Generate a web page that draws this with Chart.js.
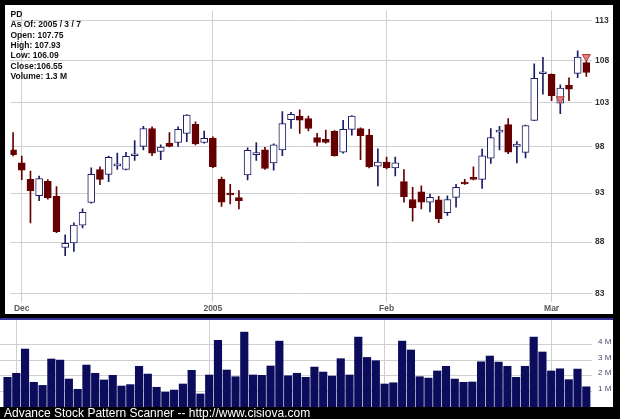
<!DOCTYPE html>
<html>
<head>
<meta charset="utf-8">
<script src="https://cdn.jsdelivr.net/npm/chart.js@4/dist/chart.umd.min.js"></script>
<style>
  html, body { margin: 0; padding: 0; background: #000; }
  #wrap { position: relative; width: 620px; height: 419px; background: #000; overflow: hidden; }
  #priceBox { position: absolute; left: 5px; top: 5px; width: 608px; height: 309px; background: #fff; }
  #sep { position: absolute; left: 0; top: 318px; width: 613px; height: 2px; background: #34349c; }
  #volBox { position: absolute; left: 0; top: 320px; width: 613px; height: 87px; background: #fff; }
  #footer { position: absolute; left: 4px; top: 406px; line-height: 12px; white-space: nowrap;
            color: #fff; font: 12px 'Liberation Sans', Arial, sans-serif; }
  canvas { display: block; }
</style>
</head>
<body>
<div id="wrap">
  <div id="priceBox"><canvas id="priceChart" width="608" height="309"></canvas></div>
  <div id="sep"></div>
  <div id="volBox"><canvas id="volumeChart" width="613" height="87"></canvas></div>
  <div id="footer">Advance Stock Pattern Scanner -- http://www.cisiova.com</div>
</div>
<script>
// --- data ---
const symbol = 'PD';
const dates = [
  '2004-11-30',
  '2004-12-01','2004-12-02','2004-12-03','2004-12-06','2004-12-07','2004-12-08','2004-12-09','2004-12-10',
  '2004-12-13','2004-12-14','2004-12-15','2004-12-16','2004-12-17','2004-12-20','2004-12-21','2004-12-22',
  '2004-12-23','2004-12-27','2004-12-28','2004-12-29','2004-12-30','2004-12-31',
  '2005-01-03','2005-01-04','2005-01-05','2005-01-06','2005-01-07','2005-01-10','2005-01-11','2005-01-12',
  '2005-01-13','2005-01-14','2005-01-18','2005-01-19','2005-01-20','2005-01-21','2005-01-24','2005-01-25',
  '2005-01-26','2005-01-27','2005-01-28','2005-01-31',
  '2005-02-01','2005-02-02','2005-02-03','2005-02-04','2005-02-07','2005-02-08','2005-02-09','2005-02-10',
  '2005-02-11','2005-02-14','2005-02-15','2005-02-16','2005-02-17','2005-02-18','2005-02-22','2005-02-23',
  '2005-02-24','2005-02-25','2005-02-28',
  '2005-03-01','2005-03-02','2005-03-03','2005-03-04','2005-03-07'
];
const openPrices = [
  97.65, 96.22, 94.45, 92.73, 94.25, 92.65, 87.46, 87.92, 89.69, 92.01, 95.50, 94.98, 95.90, 95.50, 97.00, 98.02,
  100.03, 97.47, 98.38, 98.46, 99.47, 100.50, 98.46, 98.92, 94.45, 93.00, 92.52, 94.92, 97.12, 97.65, 96.22, 97.65,
  101.03, 101.45, 101.14, 99.00, 98.81, 99.73, 97.40, 99.92, 100.03, 99.28, 95.86, 96.30, 95.68, 94.21, 92.32, 93.14,
  92.04, 92.28, 90.96, 92.55, 94.00, 94.66, 94.45, 96.72, 99.62, 100.47, 98.02, 97.37, 100.95, 106.40, 106.32, 102.92,
  105.03, 106.44, 107.75
];
const highPrices = [
  99.58, 96.97, 95.33, 94.81, 94.42, 93.69, 88.71, 89.92, 91.36, 95.68, 95.79, 96.97, 97.29, 97.37, 98.67, 100.28,
  100.21, 98.19, 99.56, 100.21, 101.60, 100.77, 99.73, 99.10, 94.70, 93.93, 93.25, 97.86, 98.46, 97.91, 98.30, 101.96,
  101.86, 102.16, 101.45, 99.47, 99.85, 99.80, 100.95, 101.50, 100.10, 99.92, 97.76, 96.86, 96.86, 95.50, 93.59, 93.76,
  92.89, 92.65, 92.72, 93.93, 94.45, 95.79, 97.72, 100.03, 100.28, 101.14, 98.56, 100.40, 107.59, 108.38, 106.40, 105.07,
  105.92, 109.19, 107.93
];
const lowPrices = [
  96.97, 94.42, 89.92, 92.21, 92.35, 88.93, 86.66, 87.08, 89.42, 91.94, 93.87, 94.21, 95.50, 95.47, 96.50, 97.65,
  97.00, 96.57, 97.98, 98.02, 98.56, 98.20, 98.38, 95.70, 91.60, 91.86, 91.36, 94.39, 96.50, 95.50, 95.44, 97.00,
  100.03, 99.47, 99.74, 98.09, 98.38, 96.95, 97.29, 99.28, 96.57, 95.68, 93.76, 95.57, 94.81, 92.04, 90.09, 91.36,
  91.03, 89.95, 90.69, 91.53, 93.90, 94.40, 93.48, 96.15, 97.65, 97.22, 96.22, 96.75, 100.90, 103.99, 103.22, 101.71,
  103.22, 105.92, 106.09
];
const closePrices = [
  97.11, 95.44, 93.25, 94.53, 92.48, 89.03, 87.88, 89.69, 91.00, 94.98, 94.45, 96.83, 96.05, 96.93, 97.06, 100.03,
  97.29, 97.94, 98.02, 99.92, 101.56, 98.30, 98.92, 95.79, 92.04, 92.79, 92.21, 97.58, 97.20, 95.61, 98.19, 100.58,
  101.63, 100.96, 100.03, 98.46, 98.46, 97.00, 99.92, 101.45, 99.21, 95.79, 96.30, 95.68, 96.22, 92.62, 91.46, 92.04,
  92.55, 90.35, 92.32, 93.59, 93.95, 94.45, 97.00, 99.00, 99.70, 97.40, 98.27, 100.36, 105.85, 106.48, 103.79, 104.69,
  104.57, 108.43, 106.55
];
// volume in millions of shares
const volumes = [
  1.91, 2.17, 3.73, 1.59, 1.39, 3.09, 3.02, 1.80, 1.14, 2.70, 2.17, 1.74, 2.04, 1.35, 1.44, 2.62,
  2.12, 1.27, 0.96, 1.09, 1.48, 2.36, 0.84, 2.06, 4.29, 2.38, 1.95, 4.82, 2.06, 2.04, 2.64, 4.24,
  2.01, 2.17, 1.91, 2.57, 2.25, 1.99, 3.11, 2.06, 4.50, 3.19, 2.98, 1.48, 1.56, 4.24, 3.67, 1.95,
  1.86, 2.32, 2.62, 1.80, 1.59, 1.61, 2.91, 3.28, 2.89, 2.62, 1.91, 2.62, 4.50, 3.54, 2.32, 2.46,
  1.76, 2.44, 1.30
];
const monthTickDates = ['2004-12-01', '2005-01-03', '2005-02-01', '2005-03-01'];
const monthTickLabels = ['Dec', '2005', 'Feb', 'Mar'];
const priceTicks = [83, 88, 93, 98, 103, 108, 113];
const volumeTicks = [1, 2, 3, 4];
const signalDates = ['2005-03-02', '2005-03-07'];
const signalPrices = [103.4, 108.45];

// --- styling ---
const FONT = "'Liberation Sans', Arial, sans-serif";
Chart.defaults.font.family = FONT;
const UP_LINE = '#1c1c66';
const DOWN = '#660000';
const GRID = '#d0d0d0';

const idx = dates.map((d, i) => i);
const isUp = i => closePrices[i] >= openPrices[i];
const monthIdx = monthTickDates.map(d => dates.indexOf(d));

function dateTicks(scale) {
    scale.ticks = monthIdx.map(v => ({ value: v }));
}

// top-left info block, taken from the last session
const infoPlugin = {
    id: 'info',
    afterDraw(chart) {
        const last = dates.length - 1;
        const [yy, mm, dd] = dates[last].split('-').map(Number);
        const lines = [
            symbol,
            'As Of: ' + yy + ' / ' + mm + ' / ' + dd,
            'Open: ' + openPrices[last].toFixed(2),
            'High: ' + highPrices[last].toFixed(2),
            'Low: ' + lowPrices[last].toFixed(2),
            'Close:' + closePrices[last].toFixed(2),
            'Volume: ' + volumes[last].toFixed(1) + ' M'
        ];
        const ctx = chart.ctx;
        ctx.save();
        ctx.font = 'bold 8.5px ' + FONT;
        ctx.fillStyle = '#111';
        ctx.textBaseline = 'alphabetic';
        lines.forEach((t, k) => ctx.fillText(t, 5.5, 11.7 + k * 10.4));
        ctx.restore();
    }
};

// --- price chart ---
new Chart(document.getElementById('priceChart'), {
    type: 'bar',
    data: {
        datasets: [
            {
                type: 'scatter',
                data: signalDates.map((d, k) => ({ x: dates.indexOf(d), y: signalPrices[k] })),
                pointStyle: 'triangle',
                rotation: 180,
                radius: 4.6,
                backgroundColor: '#ea7d7d',
                borderColor: '#a83a3a',
                borderWidth: 1,
                order: 0
            },
            {
                data: idx.map(i => ({ x: i, y: [openPrices[i], closePrices[i]] })),
                backgroundColor: c => isUp(c.dataIndex) ? '#ffffff' : DOWN,
                borderColor: c => isUp(c.dataIndex) ? UP_LINE : DOWN,
                borderWidth: 1,
                borderSkipped: false,
                barThickness: 7,
                minBarLength: 2,
                grouped: false,
                order: 1
            },
            {
                data: idx.map(i => ({ x: i, y: [lowPrices[i], highPrices[i]] })),
                backgroundColor: c => isUp(c.dataIndex) ? UP_LINE : DOWN,
                barThickness: 1,
                grouped: false,
                order: 2
            }
        ]
    },
    options: {
        responsive: false,
        animation: false,
        events: [],
        layout: { padding: 0 },
        plugins: { legend: { display: false }, tooltip: { enabled: false } },
        scales: {
            x: {
                type: 'linear',
                offset: false,
                min: -0.285,
                max: 66.65,
                afterBuildTicks: dateTicks,
                afterFit: s => { s.height = 12; s.paddingLeft = 0; s.paddingRight = 0; },
                grid: { color: GRID, drawTicks: false, offset: false },
                border: { display: false },
                ticks: {
                    autoSkip: false, maxRotation: 0, padding: 2,
                    color: '#5a5a5a', font: { size: 8.5, weight: 'bold' },
                    callback: v => monthTickLabels[monthIdx.indexOf(v)]
                }
            },
            y: {
                type: 'logarithmic',
                position: 'right',
                min: 82.24,
                max: 114.26,
                afterBuildTicks: s => { s.ticks = priceTicks.map(v => ({ value: v })); },
                afterFit: s => { s.width = 21; s.paddingTop = 0; s.paddingBottom = 0; },
                grid: { color: GRID, drawTicks: false },
                border: { display: false },
                ticks: {
                    padding: 3, color: '#333', font: { size: 8.5, weight: 'bold' },
                    callback: v => String(v)
                }
            }
        }
    },
    plugins: [infoPlugin]
});

// --- volume chart ---
new Chart(document.getElementById('volumeChart'), {
    type: 'bar',
    data: {
        datasets: [{
            data: idx.map(i => ({ x: i, y: volumes[i] })),
            backgroundColor: '#0c0c5c',
            barThickness: 7.5,
            grouped: false
        }]
    },
    options: {
        responsive: false,
        animation: false,
        events: [],
        layout: { padding: 0 },
        plugins: { legend: { display: false }, tooltip: { enabled: false } },
        scales: {
            x: {
                type: 'linear',
                offset: false,
                min: -0.855,
                max: 66.65,
                afterBuildTicks: dateTicks,
                afterFit: s => { s.height = 0; s.paddingLeft = 0; s.paddingRight = 0; },
                grid: { color: GRID, drawTicks: false, offset: false },
                border: { display: false },
                ticks: { display: false }
            },
            y: {
                position: 'right',
                min: 0,
                max: 5.6,
                afterBuildTicks: s => { s.ticks = volumeTicks.map(v => ({ value: v })); },
                afterFit: s => { s.width = 21; s.paddingTop = 0; s.paddingBottom = 0; },
                grid: { color: GRID, drawTicks: false },
                border: { display: false },
                ticks: {
                    padding: 6, labelOffset: -3, color: '#4a4a6a', font: { size: 8 },
                    callback: v => v + ' M'
                }
            }
        }
    }
});
</script>
</body>
</html>
